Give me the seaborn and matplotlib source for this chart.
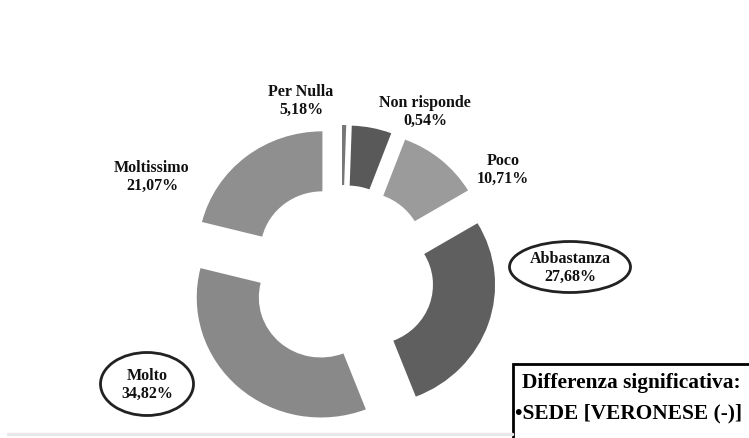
import matplotlib
matplotlib.use("Agg")
import matplotlib.pyplot as plt
from matplotlib.patches import Ellipse
import seaborn as sns

# data (clockwise from 12 o'clock)
categories = ["Non risponde", "Per Nulla", "Poco", "Abbastanza", "Molto", "Moltissimo"]
shares = [0.54, 5.18, 10.71, 27.68, 34.82, 21.07]
share_labels = ["0,54%", "5,18%", "10,71%", "27,68%", "34,82%", "21,07%"]
slice_colors = ["#767676", "#595959", "#9b9b9b", "#5f5f5f", "#898989", "#8f8f8f"]

# label placement in pixels (as in the original slide: the two top labels are swapped)
label_pos = {
    "Per Nulla": (301, 101),
    "Non risponde": (425, 112),
    "Poco": (503, 170),
    "Abbastanza": (570, 268),
    "Molto": (147, 385),
    "Moltissimo": (152, 177),
}
circled = {"Abbastanza": (121, 51), "Molto": (93, 63)}

W, H = 749, 439
SX = 1.035  # the slide is a bit stretched horizontally


def px(x, y):
    return x / SX, H - y


sns.set_theme(style="white")
plt.rcParams["font.family"] = ["Liberation Serif", "DejaVu Serif"]

fig = plt.figure(figsize=(W / 100, H / 100), dpi=100)
ax = fig.add_axes([0, 0, 1, 1])

ax.pie(shares, colors=slice_colors, startangle=90, counterclock=False,
       radius=120, center=px(341.5, 276), explode=[30] * len(shares),
       wedgeprops=dict(width=60, linewidth=0))

for cat, lab in zip(categories, share_labels):
    x, y = px(*label_pos[cat])
    ax.text(x, y, f"{cat}\n{lab}", ha="center", va="center",
            fontsize=11.5, fontweight="bold", linespacing=1.1, color="#111111")
    if cat in circled:
        w, h = circled[cat]
        ax.add_patch(Ellipse((x, y), w / SX, h, fill=False, lw=2, ec="#222222"))

# note box in the bottom-right corner (runs off the slide)
bx, by = px(513, 365)
ax.plot([bx, bx, W / SX + 5], [-5, by, by], color="black", lw=2,
        solid_joinstyle="miter", clip_on=False)
ax.text(*px(522, 383), "Differenza significativa:", fontsize=15.4,
        fontweight="bold", va="center", ha="left", color="black")
ax.text(*px(515, 413), "\u2022SEDE [VERONESE (-)]", fontsize=15.4,
        fontweight="bold", va="center", ha="left", color="black")

# faint slide edge at the bottom
ax.plot([8 / SX, 512 / SX], [H - 435, H - 435], color="#e8e8e8", lw=2.5)

ax.set_xlim(0, W / SX)
ax.set_ylim(0, H)
ax.set_aspect("auto")
ax.axis("off")

fig.savefig("out.png", dpi=100, facecolor="white")
plt.close(fig)
